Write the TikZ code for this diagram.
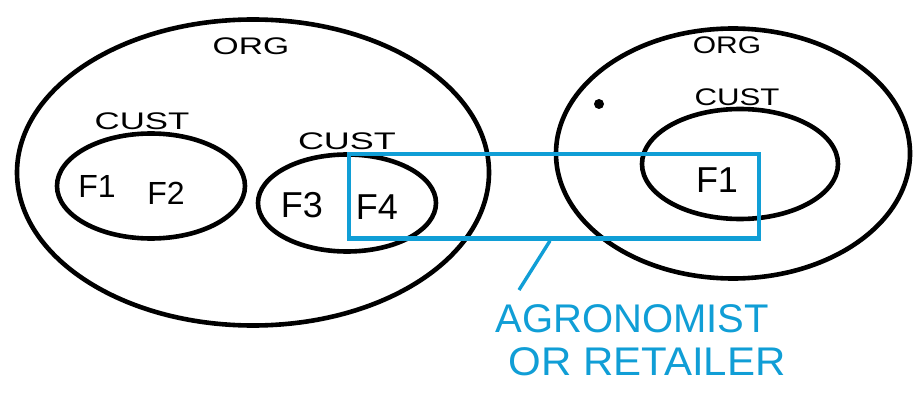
\documentclass[tikz,border=0pt]{standalone}
\usepackage{fontspec}
\usepackage{graphicx}
\setmainfont{Liberation Sans}
\definecolor{sketchblue}{RGB}{16,158,214}
\begin{document}
\begin{tikzpicture}[x=1pt,y=-1pt,
  outline/.style={draw=black,line width=4.6pt},
  bluebox/.style={draw=sketchblue,line width=4.4pt},
  small/.style={font=\fontsize{24}{24}\selectfont,inner sep=0pt},
  flabel/.style={font=\fontsize{32}{32}\selectfont,inner sep=0pt},
  bigflabel/.style={font=\fontsize{36}{36}\selectfont,inner sep=0pt},
  bluetext/.style={font=\fontsize{40}{40}\selectfont,text=sketchblue,inner sep=0pt}]
\useasboundingbox[fill=white] (0,0) rectangle (921,409);
% ellipses
\draw[outline] (253,172.5) ellipse [x radius=236, y radius=153];
\draw[outline] (733,153.5) ellipse [x radius=177, y radius=125];
\draw[outline] (151,186) ellipse [x radius=94, y radius=52.5];
\draw[outline] (347,203) ellipse [x radius=89, y radius=48.5];
\draw[outline] (740,164) ellipse [x radius=98, y radius=55];
\fill (599,104) circle [radius=5];
% labels
\node[small] (org1) at (251,46) {\scalebox{1.4}[1]{ORG}};
\node[small] (org2) at (727,45) {\scalebox{1.25}[1]{ORG}};
\node[small] (cust1) at (142,121) {\scalebox{1.45}[1]{CUST}};
\node[small] (cust2) at (347,141) {\scalebox{1.5}[1]{CUST}};
\node[small] (cust3) at (737,97) {\scalebox{1.3}[1]{CUST}};
\node[flabel] (f1) at (97,186) {F1};
\node[flabel] (f2) at (166,193) {F2};
\node[bigflabel] (f3) at (302,205) {F3};
\node[bigflabel] (f4) at (377,207) {F4};
\node[bigflabel] (f1b) at (717,180) {F1};
% blue box and annotation
\node[bluebox,minimum width=410pt,minimum height=84.5pt,inner sep=0pt] (box) at (554,196.3) {};
\node[bluetext] (agr) at (632,319) {AGRONOMIST};
\node[bluetext] (ret) at (647,362) {\scalebox{1.05}[1]{OR RETAILER}};
\coordinate (lend) at (519,290);
\draw[draw=sketchblue,line width=3.4pt] ([xshift=-4pt]box.south) -- (lend);
\end{tikzpicture}
\end{document}
